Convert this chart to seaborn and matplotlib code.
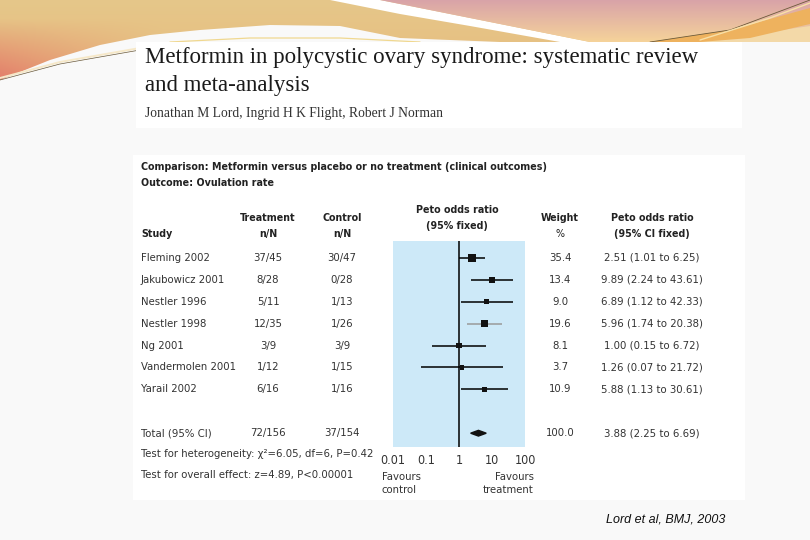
import numpy as np
import pandas as pd
import matplotlib
matplotlib.use("Agg")
import matplotlib.pyplot as plt
import seaborn as sns
from matplotlib.patches import Rectangle, Polygon
from matplotlib.transforms import blended_transform_factory

# ---------------- data ----------------
studies = ["Fleming 2002", "Jakubowicz 2001", "Nestler 1996", "Nestler 1998",
           "Ng 2001", "Vandermolen 2001", "Yarail 2002"]
treatment_nN = ["37/45", "8/28", "5/11", "12/35", "3/9", "1/12", "6/16"]
control_nN = ["30/47", "0/28", "1/13", "1/26", "3/9", "1/15", "1/16"]
weights = [35.4, 13.4, 9.0, 19.6, 8.1, 3.7, 10.9]
odds_ratio = [2.51, 9.89, 6.89, 5.96, 1.00, 1.26, 5.88]
ci_low = [1.01, 2.24, 1.12, 1.74, 0.15, 0.07, 1.13]
ci_high = [6.25, 43.61, 42.33, 20.38, 6.72, 21.72, 30.61]
total_treatment = "72/156"
total_control = "37/154"
total_weight = 100.0
total_or = 3.88
total_low = 2.25
total_high = 6.69
tick_values = [0.01, 0.1, 1, 10, 100]
tick_labels = ["0.01", "0.1", "1", "10", "100"]

df = pd.DataFrame({"study": studies, "weight": weights, "or": odds_ratio,
                   "lo": ci_low, "hi": ci_high, "row": np.arange(len(studies))})
total_row = len(studies) + 1

# ---------------- style ----------------
sns.set_theme(style="white")
plt.rcParams["font.family"] = ["DejaVu Sans", "Liberation Sans"]
plt.rcParams["font.stretch"] = "condensed"
TXT = "#333333"
SERIF = ["Liberation Serif", "DejaVu Serif"]

fig = plt.figure(figsize=(8.1, 5.4), dpi=100, facecolor="#f9f9f9")

bg = fig.add_axes([0, 0, 1, 1])
bg.set_xlim(0, 810)
bg.set_ylim(540, 0)
bg.axis("off")

# ---------- slide decoration ----------
H, W = 90, 810
xx = np.linspace(0, 1, W)[None, :, None]
yy = np.linspace(0, 1, H)[:, None, None]
tan = np.array([0.90, 0.78, 0.54])
tan2 = np.array([0.92, 0.70, 0.45])
salmon = np.array([0.89, 0.50, 0.42])
img = tan * (1 - yy * 0.6) + tan2 * (yy * 0.6)
low = np.clip(yy * 1.5 - 0.3, 0, 1) * np.clip(1 - xx * 5, 0, 1)
img = np.clip(img * (1 - low) + salmon * low, 0, 1)
im = bg.imshow(img, extent=(0, 810, 90, 0), aspect="auto", zorder=0)
tan_x = [0, 0, 810, 810, 700, 600, 500, 400, 340, 270, 200, 150, 100, 50, 0]
tan_y = [80, 0, 0, 42, 42, 42, 42, 38, 26, 25, 30, 35, 45, 60, 80]
im.set_clip_path(Polygon(list(zip(tan_x, tan_y)), closed=True, transform=bg.transData))

bg.add_patch(Polygon([(330, 0), (380, 0), (450, 14), (530, 30), (590, 42), (560, 42),
                      (470, 26), (400, 14)], closed=True, facecolor="white",
                     edgecolor="none", zorder=1))
pink_top = np.array([0.85, 0.64, 0.66])
pink_bot = np.array([0.97, 0.84, 0.60])
pimg = np.clip(pink_top * (1 - yy) + pink_bot * yy, 0, 1)
pim = bg.imshow(pimg, extent=(0, 810, 45, 0), aspect="auto", zorder=1)
pink_x = [380, 810, 810, 640, 590, 530, 450]
pink_y = [0, 0, 42, 42, 42, 30, 14]
pim.set_clip_path(Polygon(list(zip(pink_x, pink_y)), closed=True, transform=bg.transData))
bg.add_patch(Polygon([(700, 42), (810, 26), (810, 42)], closed=True,
                     facecolor="#f3d9a8", edgecolor="none", zorder=1.1))
bg.add_patch(Polygon([(650, 42), (730, 30), (810, 8), (810, 24), (750, 38), (700, 42)],
                     closed=True, facecolor="#eeb25e", edgecolor="none", zorder=1.2))
bg.plot([650, 730, 810], [42, 30, 0], color="#6b5a3a", lw=0.6, zorder=1.3)
bg.plot([700, 770, 810], [40, 18, 3], color="#f8e0a8", lw=1.0, zorder=1.3)
bg.plot([0, 60, 140], [78, 62, 48], color="#f6e8c8", lw=1.4, zorder=1.3)
bg.plot([0, 60, 140], [80, 64, 50], color="#6b5a3a", lw=0.5, zorder=1.3)
bg.plot([170, 250, 340, 420], [42, 38, 38, 42], color="#f0d890", lw=0.9, zorder=1.3)

bg.add_patch(Rectangle((136, 42), 606, 86, facecolor="white", edgecolor="none", zorder=2))
bg.add_patch(Rectangle((133, 155), 612, 345, facecolor="white", edgecolor="none", zorder=2))

# title block
bg.text(145, 58, "Metformin in polycystic ovary syndrome: systematic review",
        family=SERIF, fontsize=16.5, color="#1a1a1a", va="center", ha="left",
        fontstretch="normal", zorder=3)
bg.text(145, 86, "and meta-analysis", family=SERIF, fontsize=16.5,
        color="#1a1a1a", va="center", ha="left", fontstretch="normal", zorder=3)
bg.text(145, 114, "Jonathan M Lord, Ingrid H K Flight, Robert J Norman",
        family=SERIF, fontsize=9.8, color="#333333", va="center", ha="left",
        fontstretch="normal", zorder=3)

# ---------------- forest plot axes ----------------
ax = fig.add_axes([393 / 810, 1 - 447 / 540, 132 / 810, (447 - 241) / 540])
ax.set_facecolor("#cde9f8")
ax.set_xscale("log")
ax.set_xlim(0.01, 100)
row_px0, row_step = 258, 21.9
ax.set_ylim((447 - row_px0) / row_step, (241 - row_px0) / row_step)
for s in ax.spines.values():
    s.set_visible(False)
ax.axvline(1, color="black", lw=1.1, zorder=2)

ci_colors = ["black"] * len(studies)
ci_colors[3] = "#9a9a9a"
ax.hlines(df["row"], df["lo"], df["hi"], colors=ci_colors, lw=1.1, zorder=3)
sns.scatterplot(data=df, x="or", y="row", size="weight", sizes=(9, 38),
                marker="s", color="#111111", edgecolor="none", legend=False,
                ax=ax, zorder=4)
dh = 0.13
ax.fill([total_low, total_or, total_high, total_or],
        [total_row, total_row - dh, total_row, total_row + dh],
        color="#111111", zorder=4)

ax.set_xticks(tick_values)
ax.set_xticklabels(tick_labels)
ax.minorticks_off()
ax.set_yticks([])
ax.set_xlabel("")
ax.set_ylabel("")
ax.tick_params(axis="x", direction="in", length=3, color="white", width=1.2,
               labelsize=9.0, labelcolor=TXT, pad=5)

# ---------------- table text ----------------
rowT = blended_transform_factory(bg.transData, ax.transData)
fs = 8.1
for i, r in df.iterrows():
    y = r["row"]
    bg.text(141, y, r["study"], transform=rowT, fontsize=fs, color=TXT, va="center", ha="left")
    bg.text(268, y, treatment_nN[i], transform=rowT, fontsize=fs, color=TXT, va="center", ha="center")
    bg.text(342, y, control_nN[i], transform=rowT, fontsize=fs, color=TXT, va="center", ha="center")
    bg.text(560, y, f"{weights[i]:.1f}", transform=rowT, fontsize=fs, color=TXT, va="center", ha="center")
    bg.text(652, y, f"{odds_ratio[i]:.2f} ({ci_low[i]:.2f} to {ci_high[i]:.2f})",
            transform=rowT, fontsize=fs, color=TXT, va="center", ha="center")

bg.text(141, total_row, "Total (95% CI)", transform=rowT, fontsize=fs, color=TXT, va="center", ha="left")
bg.text(268, total_row, total_treatment, transform=rowT, fontsize=fs, color=TXT, va="center", ha="center")
bg.text(342, total_row, total_control, transform=rowT, fontsize=fs, color=TXT, va="center", ha="center")
bg.text(560, total_row, f"{total_weight:.1f}", transform=rowT, fontsize=fs, color=TXT, va="center", ha="center")
bg.text(652, total_row, f"{total_or:.2f} ({total_low:.2f} to {total_high:.2f})",
        transform=rowT, fontsize=fs, color=TXT, va="center", ha="center")

bg.text(141, 454, "Test for heterogeneity: \u03c7\u00b2=6.05, df=6, P=0.42", fontsize=fs,
        color=TXT, va="center", ha="left", zorder=3)
bg.text(141, 475, "Test for overall effect: z=4.89, P<0.00001", fontsize=fs,
        color=TXT, va="center", ha="left", zorder=3)

fh = 7.7
HB = dict(fontsize=fh, color="#222222", fontweight="bold", zorder=3, va="center")
bg.text(141, 167, "Comparison: Metformin versus placebo or no treatment (clinical outcomes)",
        ha="left", **HB)
bg.text(141, 183, "Outcome: Ovulation rate", ha="left", **HB)
bg.text(141, 234, "Study", ha="left", **HB)
bg.text(268, 218, "Treatment", ha="center", **HB)
bg.text(268, 234, "n/N", ha="center", **HB)
bg.text(342, 218, "Control", ha="center", **HB)
bg.text(342, 234, "n/N", ha="center", **HB)
bg.text(457, 210, "Peto odds ratio", ha="center", **HB)
bg.text(457, 226, "(95% fixed)", ha="center", **HB)
bg.text(560, 218, "Weight", ha="center", **HB)
bg.text(560, 234, "%", ha="center", **dict(HB, fontweight="normal"))
bg.text(652, 218, "Peto odds ratio", ha="center", **HB)
bg.text(652, 234, "(95% CI fixed)", ha="center", **HB)

bg.text(382, 477, "Favours", ha="left", va="center", fontsize=fs, color=TXT, zorder=3)
bg.text(382, 490, "control", ha="left", va="center", fontsize=fs, color=TXT, zorder=3)
bg.text(534, 477, "Favours", ha="right", va="center", fontsize=fs, color=TXT, zorder=3)
bg.text(534, 490, "treatment", ha="right", va="center", fontsize=fs, color=TXT, zorder=3)

bg.text(606, 519, "Lord et al, BMJ, 2003", family=["Liberation Sans", "DejaVu Sans"],
        style="italic", fontstretch="normal", fontsize=9, color="#111111",
        va="center", ha="left", zorder=3)

fig.savefig("out.png", dpi=100, facecolor=fig.get_facecolor())
